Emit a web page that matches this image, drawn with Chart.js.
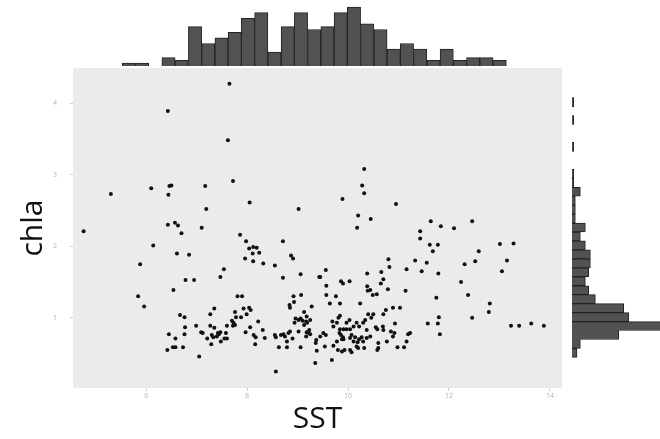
<!DOCTYPE html>
<html>
<head>
<meta charset="utf-8">
<script src="https://cdn.jsdelivr.net/npm/chart.js@4.4.1/dist/chart.umd.min.js"></script>
<style>
  html, body { margin: 0; padding: 0; background: #fff; }
  #wrap { position: relative; width: 660px; height: 439px; overflow: hidden; }
  #wrap canvas { position: absolute; }
</style>
</head>
<body>
<div id="wrap">
  <canvas id="main" width="660" height="439" style="left:0;top:0"></canvas>
  <canvas id="top" width="489" height="66" style="left:73px;top:0"></canvas>
  <canvas id="side" width="88" height="320" style="left:572px;top:68px"></canvas>
</div>
<script>
// scatter values (SST vs chla)
const sst = [
  7.65, 6.43, 7.62, 7.72, 6.10, 6.46, 6.50, 6.44, 7.17, 5.30,
  8.05, 7.19, 9.02, 6.43, 6.57, 6.63, 7.10, 4.76, 10.32, 10.28,
  10.32, 9.89, 10.95, 10.20, 10.45, 10.18, 11.64, 11.84, 12.10, 12.46,
  11.43, 6.70, 6.14, 6.61, 6.85, 5.88, 7.86, 7.98, 8.04, 8.12,
  8.19, 8.11, 8.24, 7.96, 8.12, 8.32, 8.55, 8.71, 8.87, 8.91,
  9.06, 8.71, 9.43, 7.54, 7.47, 6.78, 6.95, 6.54, 5.84, 5.96,
  7.81, 7.90, 7.35, 6.67, 6.76, 7.27, 7.76, 7.93, 8.04, 8.07,
  7.99, 7.78, 7.88, 7.70, 7.73, 7.76, 7.72, 7.60, 6.99, 7.27,
  7.35, 6.77, 7.09, 7.12, 7.42, 7.47, 7.44, 7.40, 7.30, 7.33,
  7.58, 7.60, 7.21, 7.55, 7.48, 7.29, 7.97, 8.06, 8.22, 8.31,
  8.13, 8.17, 8.35, 8.16, 8.55, 8.57, 8.67, 8.72, 8.75, 8.82,
  8.85, 8.90, 8.79, 8.63, 8.79, 9.06, 6.45, 6.58, 6.76, 6.42,
  6.53, 6.58, 6.73, 7.05, 8.57, 9.35, 9.38, 8.84, 8.85, 8.93,
  8.92, 9.07, 9.13, 9.18, 8.96, 9.02, 9.06, 9.10, 9.17, 9.25,
  8.94, 9.13, 9.19, 9.23, 9.18, 9.22, 9.17, 9.25, 9.02, 9.37,
  9.36, 9.28, 11.43, 11.62, 11.78, 11.68, 11.33, 11.56, 11.46, 11.79,
  10.80, 10.82, 10.66, 10.38, 11.16, 12.59, 13.01, 13.28, 13.15, 13.05,
  12.52, 12.31, 12.24, 12.38, 12.81, 12.79, 12.46, 11.75, 11.80, 11.58,
  11.78, 11.82, 13.23, 13.39, 13.63, 13.88, 9.56, 9.45, 9.57, 9.57,
  9.76, 9.84, 9.64, 9.86, 9.90, 10.03, 10.38, 10.39, 10.44, 10.65,
  10.70, 10.79, 10.49, 10.57, 11.14, 10.24, 10.89, 11.03, 10.75, 10.70,
  10.40, 10.46, 10.50, 10.93, 10.69, 10.70, 10.85, 10.92, 10.89, 10.55,
  10.58, 11.19, 11.23, 11.16, 10.98, 11.11, 10.60, 10.58, 10.37, 10.17,
  10.22, 10.30, 10.34, 9.97, 10.03, 10.11, 9.84, 9.81, 9.69, 9.71,
  9.78, 9.84, 9.91, 9.97, 10.04, 9.83, 9.86, 9.90, 10.07, 10.14,
  10.27, 10.30, 10.22, 10.19, 10.04, 10.11, 9.88, 9.91, 9.78, 9.71,
  9.80, 9.88, 9.93, 9.68, 9.54, 9.45, 9.51, 9.56, 10.17, 10.20,
  10.37, 10.44, 10.60, 10.77, 10.32, 10.04, 10.07
];
const chla = [
  4.27, 3.89, 3.48, 2.91, 2.81, 2.84, 2.85, 2.72, 2.84, 2.73,
  2.61, 2.52, 2.52, 2.30, 2.33, 2.29, 2.26, 2.21, 3.08, 2.85,
  2.74, 2.66, 2.59, 2.43, 2.38, 2.26, 2.35, 2.28, 2.25, 2.35,
  2.21, 2.18, 2.01, 1.90, 1.88, 1.75, 2.16, 2.07, 1.97, 1.99,
  1.98, 1.90, 1.91, 1.83, 1.79, 1.76, 1.73, 2.07, 1.87, 1.83,
  1.61, 1.56, 1.57, 1.68, 1.57, 1.53, 1.53, 1.39, 1.30, 1.16,
  1.30, 1.30, 1.13, 1.04, 1.01, 1.05, 1.08, 1.13, 1.14, 1.11,
  1.05, 1.01, 1.01, 0.96, 0.93, 0.90, 0.89, 0.89, 0.89, 0.89,
  0.86, 0.87, 0.80, 0.79, 0.79, 0.80, 0.77, 0.74, 0.76, 0.73,
  0.79, 0.71, 0.71, 0.71, 0.67, 0.63, 0.80, 0.87, 0.95, 0.83,
  0.76, 0.73, 0.72, 0.63, 0.76, 0.73, 0.76, 0.77, 0.74, 0.79,
  0.81, 0.71, 0.67, 0.59, 0.59, 0.59, 0.77, 0.71, 0.77, 0.55,
  0.59, 0.59, 0.59, 0.46, 0.25, 0.37, 0.54, 1.18, 1.14, 1.22,
  1.30, 1.32, 1.08, 1.02, 0.99, 0.97, 0.99, 0.96, 0.95, 0.97,
  0.93, 0.90, 0.93, 0.83, 0.80, 0.79, 0.74, 0.77, 0.81, 0.69,
  0.65, 1.16, 2.11, 2.02, 2.02, 1.93, 1.80, 1.77, 1.65, 1.62,
  1.82, 1.71, 1.64, 1.62, 1.68, 1.93, 2.03, 2.04, 1.80, 1.65,
  1.79, 1.75, 1.50, 1.32, 1.20, 1.08, 1.00, 1.28, 1.01, 0.92,
  0.92, 0.77, 0.89, 0.89, 0.92, 0.89, 1.67, 1.57, 1.45, 1.32,
  1.30, 1.20, 1.20, 1.51, 1.48, 1.51, 1.44, 1.38, 1.39, 1.48,
  1.54, 1.40, 1.32, 1.33, 1.38, 1.20, 1.14, 1.14, 1.11, 1.05,
  1.05, 1.00, 1.05, 0.92, 0.88, 0.83, 0.81, 0.79, 0.74, 0.87,
  0.84, 0.77, 0.79, 0.67, 0.59, 0.59, 0.58, 0.55, 0.83, 0.93,
  0.88, 0.93, 0.97, 0.93, 0.97, 0.88, 1.03, 1.00, 0.95, 0.88,
  0.93, 0.84, 0.84, 0.84, 0.84, 0.79, 0.76, 0.73, 0.76, 0.73,
  0.73, 0.67, 0.70, 0.66, 0.72, 0.67, 0.70, 0.70, 0.67, 0.61,
  0.55, 0.53, 0.55, 0.41, 0.60, 0.74, 0.79, 0.76, 0.60, 0.58,
  0.72, 0.74, 0.65, 0.67, 0.58, 0.55, 0.52
];

// marginal histogram of SST (top)
const sstBinMids = [
  4.9075, 5.2225, 5.5375, 5.8525, 6.1675, 6.4825, 6.7975, 7.1125, 7.4275, 7.7425,
  8.0575, 8.3725, 8.6875, 9.0025, 9.3175, 9.6325, 9.9475, 10.2625, 10.5775, 10.8925,
  11.2075, 11.5225, 11.8375, 12.1525, 12.4675, 12.7825, 13.0975, 13.4125, 13.7275
];
const sstCounts = [
  1, 1, 0, 3, 2, 14, 8, 10, 12, 17, 19, 5, 14, 19, 13,
  14, 19, 21, 15, 13, 6, 8, 6, 2, 6, 2, 3, 3, 2
];

// marginal histogram of chla (right), bottom to top
const chlaBinMids = [
  0.3165, 0.4555, 0.5945, 0.7335, 0.8725, 1.0115, 1.1505, 1.2895, 1.4285, 1.5675,
  1.7065, 1.8455, 1.9845, 2.1235, 2.2625, 2.4015, 2.5405, 2.6795, 2.8185, 2.9575,
  3.0965, 3.2355, 3.3745, 3.5135, 3.6525, 3.7915, 3.9305, 4.0695, 4.2085
];
const chlaCounts = [
  3, 5, 28, 55, 34, 31, 14, 10, 8, 10,
  11, 11, 8, 5, 8, 2, 2, 2, 5, 1,
  1, 0, 0, 1, 0, 0, 1, 0, 1
];

const xTicks = [6, 8, 10, 12, 14];
const yTicks = [1, 2, 3, 4];

const xMin = 4.55, xMax = 14.24;
const yMin = 0.02, yMax = 4.49;

const barFill = "#525252";
const barEdge = "#222";

const panelBg = {
  id: "panelBg",
  beforeDraw(chart) {
    const { ctx, chartArea: a } = chart;
    ctx.save();
    ctx.fillStyle = "#ebebeb";
    ctx.fillRect(a.left, a.top, a.right - a.left, a.bottom - a.top);
    ctx.restore();
  },
};

const tickFont = { family: "Open Sans", size: 7 };
const titleFont = { family: "Open Sans", size: 30 };

new Chart(document.getElementById("main"), {
  type: "scatter",
  data: {
    datasets: [
      {
        data: sst.map((x, i) => ({ x: x, y: chla[i] })),
        backgroundColor: "#111",
        borderWidth: 0,
        pointRadius: 2,
      },
    ],
  },
  options: {
    responsive: false,
    animation: false,
    layout: { padding: { top: 68, right: 98, left: 0, bottom: 0 } },
    plugins: { legend: { display: false }, tooltip: { enabled: false } },
    scales: {
      x: {
        type: "linear",
        min: xMin,
        max: xMax,
        afterBuildTicks: (s) => { s.ticks = xTicks.map((v) => ({ value: v })); },
        afterFit: (s) => { s.height = 51; },
        grid: { drawOnChartArea: false, tickLength: 3, tickColor: "#d0d0d0" },
        border: { display: false },
        ticks: { color: "#b4b4b4", font: tickFont, padding: 1, maxRotation: 0 },
        title: { display: true, text: "SST", color: "#111", font: titleFont, padding: { top: 0, bottom: 2 } },
      },
      y: {
        type: "linear",
        min: yMin,
        max: yMax,
        afterBuildTicks: (s) => { s.ticks = yTicks.map((v) => ({ value: v })); },
        afterFit: (s) => { s.width = 73; },
        grid: { drawOnChartArea: false, tickLength: 3, tickColor: "#d0d0d0" },
        border: { display: false },
        ticks: { color: "#b4b4b4", font: tickFont, padding: 13 },
        title: { display: true, text: "chla", color: "#111", font: titleFont, padding: { top: 15, bottom: 0 } },
      },
    },
  },
  plugins: [panelBg],
});

new Chart(document.getElementById("top"), {
  type: "bar",
  data: {
    datasets: [
      {
        data: sstBinMids.map((x, i) => ({ x: x, y: sstCounts[i] })),
        backgroundColor: barFill,
        borderColor: barEdge,
        borderWidth: 1,
        barPercentage: 1,
        categoryPercentage: 1,
      },
    ],
  },
  options: {
    responsive: false,
    animation: false,
    plugins: { legend: { display: false }, tooltip: { enabled: false } },
    scales: {
      x: { type: "linear", min: xMin, max: xMax, display: false },
      y: { min: 0, max: 23.5, display: false },
    },
  },
});

new Chart(document.getElementById("side"), {
  type: "bar",
  data: {
    datasets: [
      {
        data: chlaBinMids.map((y, i) => ({ x: chlaCounts[i], y: y })),
        backgroundColor: barFill,
        borderColor: barEdge,
        borderWidth: 1,
        barPercentage: 1,
        categoryPercentage: 1,
      },
    ],
  },
  options: {
    indexAxis: "y",
    responsive: false,
    animation: false,
    plugins: { legend: { display: false }, tooltip: { enabled: false } },
    scales: {
      y: { type: "linear", min: yMin, max: yMax, display: false },
      x: { min: 0, max: 52.7, display: false },
    },
  },
});
</script>
</body>
</html>
